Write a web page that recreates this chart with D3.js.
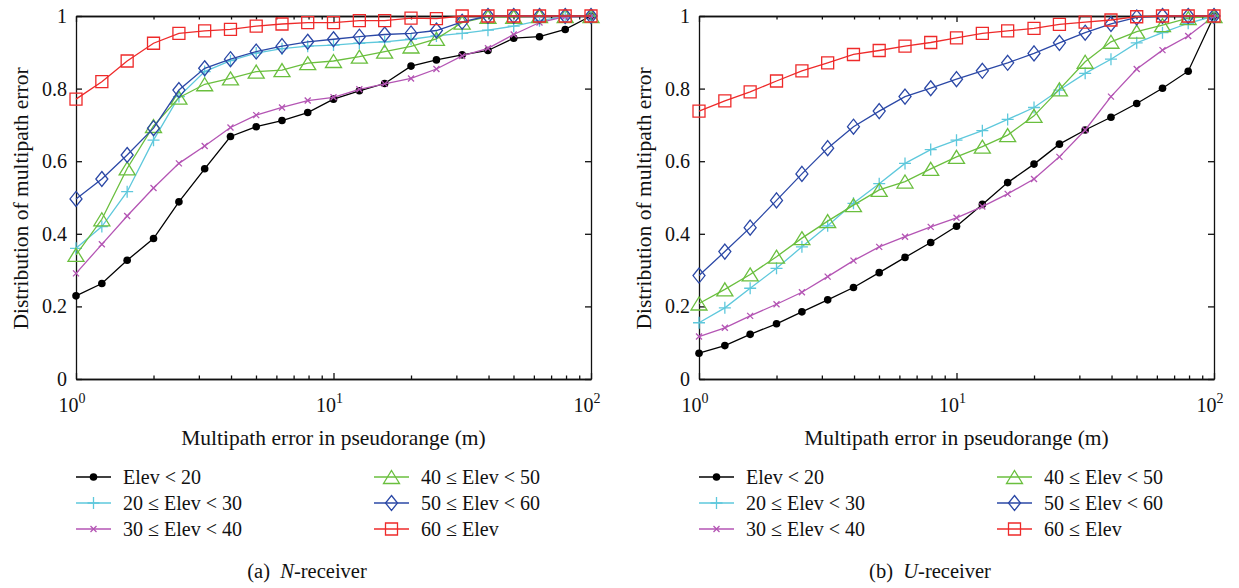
<!DOCTYPE html>
<html>
<head>
<meta charset="utf-8">
<script src="https://d3js.org/d3.v7.min.js"></script>
<style>
  body { margin: 0; background: #fff; }
  svg text { font-family: "Liberation Serif", "DejaVu Serif", serif; fill: #111; }
</style>
</head>
<body>
<div id="chart"></div>
<script>
    // x positions of the points (m), log spaced
    var xValues = [1, 1.26, 1.58, 2, 2.51, 3.16, 3.98, 5.01, 6.31, 7.94, 10, 12.6, 15.8, 20, 25.1, 31.6, 39.8, 50.1, 63.1, 79.4, 100];

    var seriesNames = ["Elev < 20", "20 \u2264 Elev < 30", "30 \u2264 Elev < 40", "40 \u2264 Elev < 50", "50 \u2264 Elev < 60", "60 \u2264 Elev"];
    var seriesColors = ["#000000", "#5ec8dc", "#b455b4", "#6abf3e", "#2b48a6", "#ee2a2a"];
    var seriesMarkers = ["dot", "plus", "cross", "triangle", "diamond", "square"];

    // (a) N-receiver
    var nElevBelow20 = [0.229, 0.263, 0.327, 0.387, 0.488, 0.579, 0.668, 0.695, 0.712, 0.734, 0.771, 0.794, 0.814, 0.862, 0.879, 0.893, 0.905, 0.939, 0.943, 0.963, 1.0];
    var nElev20to30 = [0.36, 0.42, 0.516, 0.658, 0.778, 0.847, 0.877, 0.898, 0.91, 0.917, 0.92, 0.925, 0.929, 0.936, 0.945, 0.952, 0.961, 0.972, 0.987, 0.998, 1.0];
    var nElev30to40 = [0.291, 0.371, 0.449, 0.526, 0.594, 0.642, 0.693, 0.727, 0.748, 0.767, 0.776, 0.798, 0.813, 0.828, 0.854, 0.89, 0.911, 0.949, 0.982, 0.998, 1.0];
    var nElev40to50 = [0.342, 0.44, 0.58, 0.697, 0.775, 0.812, 0.828, 0.847, 0.851, 0.87, 0.876, 0.888, 0.902, 0.916, 0.937, 0.982, 0.998, 0.998, 1.0, 1.0, 1.0];
    var nElev50to60 = [0.496, 0.551, 0.617, 0.691, 0.796, 0.856, 0.881, 0.902, 0.917, 0.929, 0.936, 0.943, 0.949, 0.952, 0.96, 0.984, 1.0, 1.0, 1.0, 1.0, 1.0];
    var nElevAbove60 = [0.771, 0.819, 0.876, 0.925, 0.952, 0.959, 0.963, 0.972, 0.978, 0.982, 0.982, 0.987, 0.987, 0.994, 0.993, 1.0, 1.0, 1.0, 1.0, 1.0, 1.0];

    // (b) U-receiver
    var uElevBelow20 = [0.071, 0.092, 0.123, 0.152, 0.185, 0.218, 0.252, 0.293, 0.335, 0.376, 0.421, 0.481, 0.541, 0.592, 0.647, 0.686, 0.721, 0.759, 0.801, 0.848, 1.0];
    var uElev20to30 = [0.155, 0.196, 0.25, 0.305, 0.364, 0.422, 0.484, 0.538, 0.594, 0.632, 0.658, 0.684, 0.715, 0.748, 0.796, 0.842, 0.881, 0.926, 0.954, 0.98, 1.0];
    var uElev30to40 = [0.117, 0.141, 0.174, 0.206, 0.239, 0.282, 0.326, 0.364, 0.392, 0.419, 0.444, 0.475, 0.51, 0.551, 0.612, 0.686, 0.778, 0.854, 0.906, 0.945, 1.0];
    var uElev40to50 = [0.208, 0.247, 0.288, 0.337, 0.388, 0.435, 0.479, 0.521, 0.544, 0.579, 0.612, 0.64, 0.672, 0.725, 0.798, 0.874, 0.929, 0.957, 0.975, 0.994, 1.0];
    var uElev50to60 = [0.285, 0.351, 0.417, 0.492, 0.565, 0.636, 0.695, 0.738, 0.778, 0.801, 0.826, 0.849, 0.871, 0.897, 0.926, 0.954, 0.978, 0.996, 1.0, 1.0, 1.0];
    var uElevAbove60 = [0.738, 0.766, 0.791, 0.821, 0.849, 0.871, 0.894, 0.905, 0.917, 0.927, 0.94, 0.952, 0.959, 0.966, 0.977, 0.983, 0.989, 0.998, 1.0, 1.0, 1.0];

    var yTicks = [0, 0.2, 0.4, 0.6, 0.8, 1];
    var xMajorTicks = [1, 10, 100];
    var xTickExponents = ["0", "1", "2"];
    var xMinorTicks = [2, 3, 4, 5, 6, 7, 8, 9, 20, 30, 40, 50, 60, 70, 80, 90];

    var width = 515, height = 363, marginTop = 16;

    var svg = d3.select("#chart").append("svg")
        .attr("width", 1239)
        .attr("height", 588);

    // marker paths centred at 0,0
    function markerPath(type) {
        if (type == "plus") return "M-6,0H6M0,-6V6";
        if (type == "cross") return "M-3,-3L3,3M-3,3L3,-3";
        if (type == "triangle") return "M0,-6.5L8,6.5L-8,6.5Z";
        if (type == "diamond") return "M0,-7.5L6,0L0,7.5L-6,0Z";
        if (type == "square") return "M-6,-6H6V6H-6Z";
        return null;
    }

    function drawMarker(g, type, color, px, py) {
        if (type == "dot") {
            g.append("circle").attr("cx", px).attr("cy", py).attr("r", 3.8)
                .attr("fill", color);
        } else {
            g.append("path").attr("d", markerPath(type))
                .attr("transform", "translate(" + px + "," + py + ")")
                .attr("fill", "none")
                .attr("stroke", color)
                .attr("stroke-width", 1.3);
        }
    }

    function drawPanel(left, series, letter, receiver) {
        var x = d3.scaleLog().domain([1, 100]).range([0, width]);
        var y = d3.scaleLinear().domain([0, 1]).range([height, 0]);

        var main = svg.append("g")
            .attr("transform", "translate(" + left + "," + marginTop + ")");

        // axes (box, inward ticks)
        main.append("g").attr("transform", "translate(0," + height + ")")
            .call(d3.axisBottom(x).tickValues(xMajorTicks).tickSize(-6).tickSizeOuter(0).tickFormat(""));
        main.append("g").attr("transform", "translate(0," + height + ")")
            .call(d3.axisBottom(x).tickValues(xMinorTicks).tickSize(-3.5).tickSizeOuter(0).tickFormat(""));
        main.append("g")
            .call(d3.axisTop(x).tickValues(xMajorTicks).tickSize(-6).tickSizeOuter(0).tickFormat(""));
        main.append("g")
            .call(d3.axisTop(x).tickValues(xMinorTicks).tickSize(-3.5).tickSizeOuter(0).tickFormat(""));
        var yAxis = main.append("g")
            .call(d3.axisLeft(y).tickValues(yTicks).tickSize(-6).tickSizeOuter(0).tickPadding(9)
                .tickFormat(function (d) { return (d == 0 || d == 1) ? d : d.toFixed(1); }));
        main.append("g").attr("transform", "translate(" + width + ",0)")
            .call(d3.axisRight(y).tickValues(yTicks).tickSize(-6).tickSizeOuter(0).tickFormat(""));

        main.selectAll(".domain, .tick line").attr("stroke", "#111").attr("stroke-width", 1.3);
        yAxis.selectAll("text").style("font-size", "20px").attr("font-family", null);

        // 10^k labels
        xMajorTicks.forEach(function (v, i) {
            var t = main.append("text")
                .attr("x", x(v) - 4)
                .attr("y", height + 33)
                .attr("text-anchor", "middle")
                .style("font-size", "20px");
            t.append("tspan").text("10");
            t.append("tspan").attr("dy", -9).style("font-size", "14px").text(xTickExponents[i]);
        });

        main.append("text")
            .attr("x", width / 2)
            .attr("y", height + 66)
            .attr("text-anchor", "middle")
            .style("font-size", "21.5px")
            .text("Multipath error in pseudorange (m)");

        main.append("text")
            .attr("transform", "rotate(-90)")
            .attr("x", -height / 2 - 1)
            .attr("y", -48)
            .attr("text-anchor", "middle")
            .style("font-size", "21.5px")
            .text("Distribution of multipath error");

        // series
        var line = d3.line()
            .x(function (d, i) { return x(xValues[i]); })
            .y(function (d) { return y(d); });

        series.forEach(function (vals, s) {
            var g = main.append("g");
            g.append("path")
                .datum(vals)
                .attr("d", line)
                .attr("fill", "none")
                .attr("stroke", seriesColors[s])
                .attr("stroke-width", 1.3);
            vals.forEach(function (v, i) {
                drawMarker(g, seriesMarkers[s], seriesColors[s], x(xValues[i]), y(v));
            });
        });

        // legend
        var legend = svg.append("g").attr("transform", "translate(" + left + ",0)");
        seriesNames.forEach(function (name, s) {
            var col = Math.floor(s / 3), row = s % 3;
            var lx = col * 298, ly = 477 + row * 26;
            var lg = legend.append("g");
            lg.append("line")
                .attr("x1", lx).attr("x2", lx + 35)
                .attr("y1", ly).attr("y2", ly)
                .attr("stroke", seriesColors[s])
                .attr("stroke-width", 1.3);
            drawMarker(lg, seriesMarkers[s], seriesColors[s], lx + 17.5, ly);
            lg.append("text")
                .attr("x", lx + 47)
                .attr("y", ly + 7)
                .style("font-size", "20px")
                .text(name);
        });

        // caption
        var cap = svg.append("text")
            .attr("x", left + 231)
            .attr("y", 578)
            .attr("text-anchor", "middle")
            .style("font-size", "20.5px");
        cap.append("tspan").text("(" + letter + ")\u00a0\u00a0");
        cap.append("tspan").style("font-style", "italic").text(receiver);
        cap.append("tspan").text("-receiver");
    }

    drawPanel(76, [nElevBelow20, nElev20to30, nElev30to40, nElev40to50, nElev50to60, nElevAbove60], "a", "N");
    drawPanel(699, [uElevBelow20, uElev20to30, uElev30to40, uElev40to50, uElev50to60, uElevAbove60], "b", "U");
</script>
</body>
</html>
